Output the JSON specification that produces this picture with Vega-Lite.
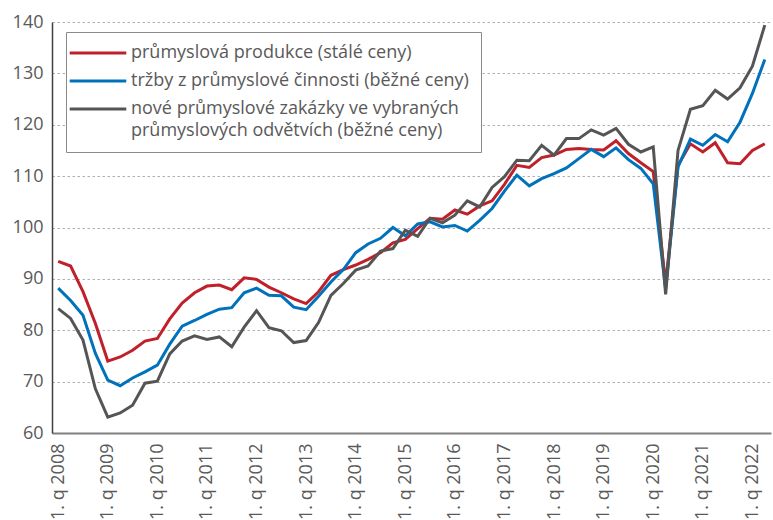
{
  "$schema": "https://vega.github.io/schema/vega-lite/v6.json",
  "width": 719,
  "height": 411,
  "autosize": {"type": "none"},
  "padding": {"left": 52, "top": 22, "right": 2, "bottom": 87},
  "background": "white",
  "config": {
    "font": "Open Sans",
    "view": {"stroke": null},
    "style": {"guide-label": {"lineHeight": 22}}
  },
  "data": {
    "values": [
      {"q": "1. q 2008", "p": 93.4, "t": 88.2, "z": 84.2},
      {"q": "2. q 2008", "p": 92.5, "t": 85.8, "z": 82.3},
      {"q": "3. q 2008", "p": 87.5, "t": 82.9, "z": 78.1},
      {"q": "4. q 2008", "p": 81.3, "t": 75.5, "z": 68.6},
      {"q": "1. q 2009", "p": 74.0, "t": 70.3, "z": 63.1},
      {"q": "2. q 2009", "p": 74.8, "t": 69.2, "z": 63.9},
      {"q": "3. q 2009", "p": 76.1, "t": 70.7, "z": 65.4},
      {"q": "4. q 2009", "p": 77.9, "t": 71.9, "z": 69.7},
      {"q": "1. q 2010", "p": 78.4, "t": 73.2, "z": 70.1},
      {"q": "2. q 2010", "p": 82.2, "t": 77.3, "z": 75.4},
      {"q": "3. q 2010", "p": 85.3, "t": 80.8, "z": 77.9},
      {"q": "4. q 2010", "p": 87.3, "t": 81.9, "z": 78.9},
      {"q": "1. q 2011", "p": 88.6, "t": 83.1, "z": 78.2},
      {"q": "2. q 2011", "p": 88.8, "t": 84.1, "z": 78.7},
      {"q": "3. q 2011", "p": 87.9, "t": 84.4, "z": 76.8},
      {"q": "4. q 2011", "p": 90.2, "t": 87.3, "z": 80.6},
      {"q": "1. q 2012", "p": 89.9, "t": 88.2, "z": 83.8},
      {"q": "2. q 2012", "p": 88.4, "t": 86.8, "z": 80.5},
      {"q": "3. q 2012", "p": 87.3, "t": 86.7, "z": 79.9},
      {"q": "4. q 2012", "p": 86.1, "t": 84.5, "z": 77.6},
      {"q": "1. q 2013", "p": 85.2, "t": 84.0, "z": 78.0},
      {"q": "2. q 2013", "p": 87.5, "t": 86.6, "z": 81.5},
      {"q": "3. q 2013", "p": 90.7, "t": 89.4, "z": 86.8},
      {"q": "4. q 2013", "p": 91.8, "t": 91.8, "z": 89.1},
      {"q": "1. q 2014", "p": 92.7, "t": 95.1, "z": 91.7},
      {"q": "2. q 2014", "p": 93.8, "t": 96.8, "z": 92.5},
      {"q": "3. q 2014", "p": 95.1, "t": 97.9, "z": 95.4},
      {"q": "4. q 2014", "p": 97.0, "t": 100.0, "z": 95.9},
      {"q": "1. q 2015", "p": 97.7, "t": 98.4, "z": 99.5},
      {"q": "2. q 2015", "p": 99.8, "t": 100.7, "z": 98.3},
      {"q": "3. q 2015", "p": 101.8, "t": 101.1, "z": 101.8},
      {"q": "4. q 2015", "p": 101.6, "t": 100.1, "z": 100.9},
      {"q": "1. q 2016", "p": 103.4, "t": 100.4, "z": 102.4},
      {"q": "2. q 2016", "p": 102.6, "t": 99.3, "z": 105.2},
      {"q": "3. q 2016", "p": 104.2, "t": 101.4, "z": 104.0},
      {"q": "4. q 2016", "p": 105.2, "t": 103.7, "z": 107.8},
      {"q": "1. q 2017", "p": 108.4, "t": 107.1, "z": 109.9},
      {"q": "2. q 2017", "p": 112.1, "t": 110.2, "z": 113.1},
      {"q": "3. q 2017", "p": 111.7, "t": 108.1, "z": 113.0},
      {"q": "4. q 2017", "p": 113.6, "t": 109.5, "z": 116.0},
      {"q": "1. q 2018", "p": 114.1, "t": 110.5, "z": 114.1},
      {"q": "2. q 2018", "p": 115.2, "t": 111.6, "z": 117.3},
      {"q": "3. q 2018", "p": 115.4, "t": 113.4, "z": 117.3},
      {"q": "4. q 2018", "p": 115.2, "t": 115.2, "z": 119.0},
      {"q": "1. q 2019", "p": 115.1, "t": 113.8, "z": 118.0},
      {"q": "2. q 2019", "p": 116.9, "t": 115.5, "z": 119.3},
      {"q": "3. q 2019", "p": 114.4, "t": 113.2, "z": 116.2},
      {"q": "4. q 2019", "p": 112.6, "t": 111.5, "z": 114.7},
      {"q": "1. q 2020", "p": 110.9, "t": 108.5, "z": 115.7},
      {"q": "2. q 2020", "p": 89.0, "t": 88.0, "z": 87.0},
      {"q": "3. q 2020", "p": 112.1, "t": 111.8, "z": 115.0},
      {"q": "4. q 2020", "p": 116.3, "t": 117.2, "z": 123.0},
      {"q": "1. q 2021", "p": 114.7, "t": 116.0, "z": 123.7},
      {"q": "2. q 2021", "p": 116.5, "t": 118.1, "z": 126.7},
      {"q": "3. q 2021", "p": 112.6, "t": 116.7, "z": 125.0},
      {"q": "4. q 2021", "p": 112.4, "t": 120.5, "z": 127.2},
      {"q": "1. q 2022", "p": 115.0, "t": 126.1, "z": 131.4},
      {"q": "2. q 2022", "p": 116.3, "t": 132.7, "z": 139.4}
    ]
  },
  "transform": [
    {"fold": ["p", "t", "z"], "as": ["s", "v"]}
  ],
  "mark": {"type": "line", "strokeWidth": 3, "strokeJoin": "miter"},
  "encoding": {
    "x": {
      "field": "q",
      "type": "ordinal",
      "sort": null,
      "scale": {"paddingOuter": 0.5},
      "axis": {
        "title": null,
        "values": ["1. q 2008", "1. q 2009", "1. q 2010", "1. q 2011", "1. q 2012", "1. q 2013", "1. q 2014", "1. q 2015", "1. q 2016", "1. q 2017", "1. q 2018", "1. q 2019", "1. q 2020", "1. q 2021", "1. q 2022"],
        "labelAngle": -90,
        "labelAlign": "right",
        "labelBaseline": "middle",
        "labelFontSize": 18,
        "labelColor": "#595959",
        "labelPadding": 10,
        "ticks": false,
        "domainColor": "#808080",
        "domainWidth": 2,
        "grid": false
      }
    },
    "y": {
      "field": "v",
      "type": "quantitative",
      "scale": {"domain": [60, 140], "nice": false, "zero": false},
      "axis": {
        "title": null,
        "values": [60, 70, 80, 90, 100, 110, 120, 130, 140],
        "labelFontSize": 18,
        "labelColor": "#595959",
        "labelPadding": 9,
        "ticks": false,
        "domainColor": "#404040",
        "domainWidth": 1.5,
        "grid": true,
        "gridColor": "#b0b0b0",
        "gridDash": [2.5, 2.5],
        "gridWidth": 1
      }
    },
    "color": {
      "field": "s",
      "type": "nominal",
      "scale": {"domain": ["p", "t", "z"], "range": ["#c0202a", "#0072bc", "#555555"]},
      "legend": {
        "title": null,
        "orient": "none",
        "legendX": 14,
        "legendY": 10,
        "symbolType": "M -4 0 H 4",
        "symbolSize": 200,
        "symbolStrokeWidth": 3,
        "symbolOffset": 11,
        "labelFontSize": 18,
        "labelColor": "#595959",
        "labelOffset": 24,
        "labelLimit": 500,
        "rowPadding": 10,
        "padding": 12,
        "strokeColor": "#8a8a8a",
        "fillColor": "white",
        "labelExpr": "datum.value == 'p' ? 'průmyslová produkce (stálé ceny)' : datum.value == 't' ? 'tržby z průmyslové činnosti (běžné ceny)' : ['nové průmyslové zakázky ve vybraných', 'průmyslových odvětvích (běžné ceny)']"
      }
    }
  }
}
